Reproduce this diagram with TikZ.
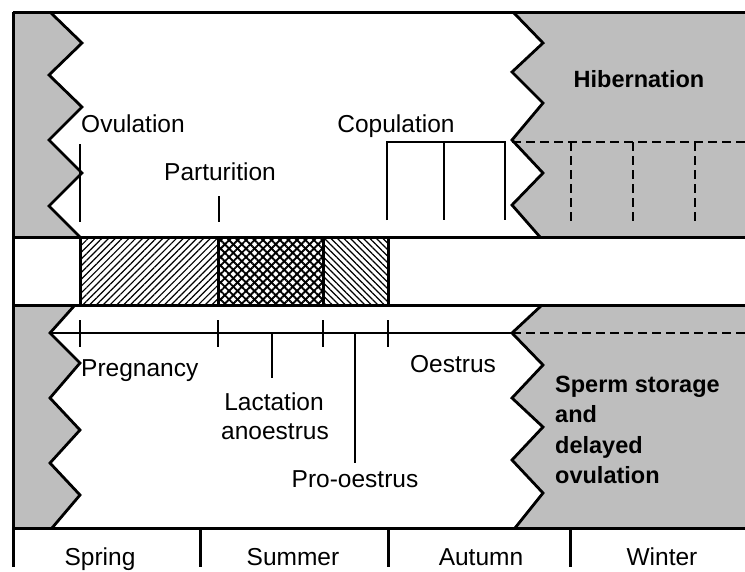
\documentclass[tikz,border=0pt]{standalone}
\usepackage{fontspec}
\setmainfont{Liberation Sans}
\usetikzlibrary{patterns.meta}
\definecolor{greyarea}{RGB}{190,190,190}
\begin{document}
\begin{tikzpicture}[x=1pt,y=-1pt,
  lbl/.style={font=\fontsize{24.5}{30}\selectfont, inner sep=0pt},
  blbl/.style={font=\fontsize{23.5}{30}\selectfont\bfseries, inner sep=0pt, align=left},
  frameln/.style={line width=3pt},
  zig/.style={line width=2.8pt, line join=miter},
  tickln/.style={line width=2.7pt},
  dashln/.style={line width=2.8pt, dash pattern=on 9pt off 5pt},
  hatchA/.style={pattern={Lines[angle=45,distance=4.8pt,line width=1.2pt]}},
  hatchB/.style={pattern={Lines[angle=-45,distance=4.6pt,line width=1.2pt]}},
  meshA/.style={pattern={Lines[angle=45,distance=6pt,line width=1.9pt]}},
  meshB/.style={pattern={Lines[angle=-45,distance=6pt,line width=1.9pt]}},
]
\useasboundingbox (0,0) rectangle (745,571);
\fill[white] (0,0) rectangle (745,571);

% grey areas
\fill[greyarea] (13,12) -- (50,12) -- (82,43) -- (49,75) -- (82,107) -- (49,140) -- (82,173) -- (49,206) -- (80,237) -- (13,237) -- cycle;
\fill[greyarea] (513,12) -- (543,43) -- (512,72) -- (543,103) -- (512,140) -- (543,173) -- (512,205) -- (540,237) -- (745,237) -- (745,12) -- cycle;
\fill[greyarea] (13,305) -- (75,305) -- (50,333) -- (80,363) -- (50,398) -- (80,430) -- (50,463) -- (80,495) -- (52,528) -- (13,528) -- cycle;
\fill[greyarea] (542,305) -- (512,333) -- (543,365) -- (512,398) -- (543,427) -- (512,460) -- (543,493) -- (515,528) -- (745,528) -- (745,305) -- cycle;

% zigzag borders
\draw[zig] (50,12) -- (82,43) -- (49,75) -- (82,107) -- (49,140) -- (82,173) -- (49,206) -- (80,237);
\draw[zig] (513,12) -- (543,43) -- (512,72) -- (543,103) -- (512,140) -- (543,173) -- (512,205) -- (540,237);
\draw[zig] (75,305) -- (50,333) -- (80,363) -- (50,398) -- (80,430) -- (50,463) -- (80,495) -- (52,528);
\draw[zig] (542,305) -- (512,333) -- (543,365) -- (512,398) -- (543,427) -- (512,460) -- (543,493) -- (515,528);

% band
\fill[hatchA] (80,237) rectangle (218,305);
\fill[meshA] (218,237) rectangle (323,305);
\fill[meshB] (218,237) rectangle (323,305);
\fill[hatchB] (323,237) rectangle (388,305);
\foreach \x in {80,218,323,388} \draw[frameln] (\x,237) -- (\x,305);

% frame
\draw[frameln] (13,12) -- (745,12);
\draw[frameln] (13,12) -- (13,567);
\draw[frameln] (13,237) -- (745,237);
\draw[frameln] (13,305) -- (745,305);
\draw[frameln] (13,528) -- (745,528);
\foreach \x in {200,388,570} \draw[frameln] (\x,528) -- (\x,567);

% top panel marks
\draw[tickln] (80,144) -- (80,222);
\draw[tickln] (219,196) -- (219,222);
\draw[tickln] (387,220) -- (387,142) -- (505,142) -- (505,220);
\draw[tickln] (444,142) -- (444,220);
\draw[dashln] (512,142) -- (745,142);
\foreach \x in {571,633,695} \draw[dashln] (\x,142) -- (\x,222);

% lower timeline
\draw[tickln] (50,333) -- (512,333);
\draw[dashln] (512,333) -- (745,333);
\foreach \x in {80,218,323,388} \draw[tickln] (\x,320) -- (\x,347);
\coordinate (lacA) at (272,333);
\coordinate (lacB) at (272,378);
\coordinate (proA) at (355,333);
\coordinate (proB) at (355,463);
\draw[tickln] (lacA) -- (lacB);
\draw[tickln] (proA) -- (proB);

% labels
\node[lbl, anchor=base west] (ovu) at (81,132) {Ovulation};
\node[lbl, anchor=base] (par) at (220,180) {Parturition};
\node[lbl, anchor=base] (cop) at (396,132) {Copulation};
\node[blbl, anchor=base] (hib) at (639,87) {Hibernation};
\node[lbl, anchor=base west] (preg) at (81,376) {Pregnancy};
\node[lbl, anchor=base] (lac1) at (274,410) {Lactation};
\node[lbl, anchor=base] (lac2) at (275,439) {anoestrus};
\node[lbl, anchor=base] (pro) at (355,487) {Pro-oestrus};
\node[lbl, anchor=base] (oes) at (453,372) {Oestrus};
\node[blbl, anchor=base west] (sp1) at (555,392) {Sperm storage};
\node[blbl, anchor=base west] (sp2) at (555,422) {and};
\node[blbl, anchor=base west] (sp3) at (555,453) {delayed};
\node[blbl, anchor=base west] (sp4) at (555,483) {ovulation};
\node[lbl, anchor=base] (spr) at (100,565) {Spring};
\node[lbl, anchor=base] (sum) at (293,565) {Summer};
\node[lbl, anchor=base] (aut) at (481,565) {Autumn};
\node[lbl, anchor=base] (win) at (662,565) {Winter};
\end{tikzpicture}
\end{document}
